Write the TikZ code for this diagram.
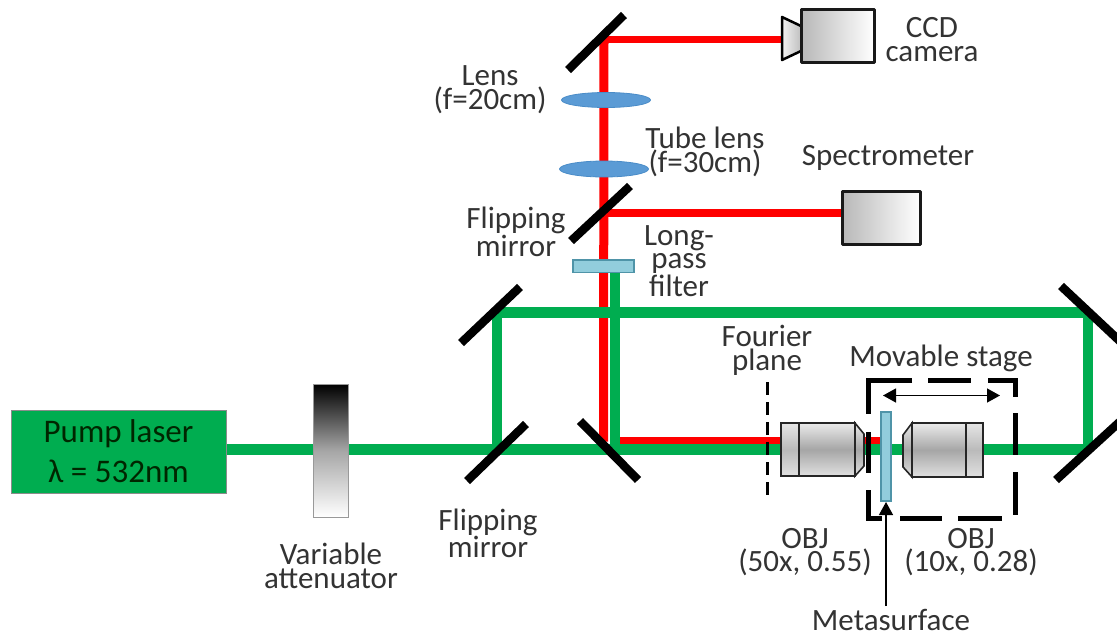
\documentclass[tikz,border=0pt]{standalone}
\usepackage{fontspec}
\setmainfont{Carlito}
\usetikzlibrary{arrows.meta,shapes.geometric}
\definecolor{beamgreen}{HTML}{00AD50}
\definecolor{beamred}{HTML}{FF0000}
\definecolor{lensblue}{HTML}{5B9BD5}
\definecolor{lensedge}{HTML}{4A8CC8}
\definecolor{plateblue}{HTML}{92CDDC}
\definecolor{plateedge}{HTML}{4F94A8}
\definecolor{txt}{HTML}{333333}
\tikzset{
  every node/.style={inner sep=0pt,outer sep=0pt},
  label text/.style={font=\fontsize{31}{23.7}\selectfont,align=center,text=txt},
  pump text/.style={font=\fontsize{33}{40}\selectfont,align=center,text=black!85!green},
  green beam/.style={draw=beamgreen,line width=10.5pt},
  red beam/.style={draw=beamred,line width=8.5pt},
  mirror/.style={draw=black,line width=8.5pt},
  lens/.style={ellipse,fill=lensblue,draw=lensedge,line width=0.8pt},
  plate/.style={fill=plateblue,draw=plateedge,line width=1.5pt},
  boxbody/.style={draw=black!90,line width=3pt,left color=black!28,right color=white,shading angle=90},
  objside/.style={draw=black!85,line width=1.6pt,top color=black!10,bottom color=black!12,middle color=black!27},
  obj/.style={draw=black!85,line width=1.6pt,top color=black!8,bottom color=black!12,middle color=black!35},
  stage/.style={draw=black,line width=5pt},
  fourier/.style={draw=black,line width=3pt,dash pattern=on 13pt off 7pt},
  thin arrow/.style={draw=black,line width=1.3pt,-{Triangle[length=13pt,width=14pt]}},
  both arrow/.style={draw=black,line width=1.3pt,{Triangle[length=13pt,width=14pt]}-{Triangle[length=13pt,width=14pt]}},
}
\begin{document}
\begin{tikzpicture}[x=1pt,y=-1pt]
\useasboundingbox (0,0) rectangle (1117,635);
% beam corner points
\coordinate (laserout) at (226,449.5);
\coordinate (m1) at (497,449.5);
\coordinate (m2) at (497,312.5);
\coordinate (m3) at (1088,312.5);
\coordinate (m4) at (1088,449.5);
\coordinate (m5g) at (615,449.5);
\coordinate (filterg) at (615,272);
\coordinate (m5r) at (603.5,441.5);
\coordinate (redend) at (884,441.5);
\coordinate (redcorner) at (620,441.5);
\coordinate (mtop) at (604,39);
\coordinate (mflip) at (604,213);
% beams
\draw[red beam] (redcorner) -- (redend);
\draw[red beam,line width=9pt] (m5r) -- (mtop);
\draw[red beam,line width=7pt] (mtop) -- (782,39);
\draw[red beam] (mflip) -- (842,213);
\draw[green beam] (laserout) -- (m4);
\draw[green beam] (m1) -- (m2);
\draw[green beam] (m2) -- (m3);
\draw[green beam] (m3) -- (m4);
\draw[green beam] (m5g) -- (filterg);
% mirrors
\draw[mirror] (568,70) -- (624,15);
\draw[mirror] (571,241) -- (630,186);
\draw[mirror] (461,343) -- (520,287);
\draw[mirror] (467,481) -- (526,424);
\draw[mirror] (580,421) -- (638,480);
\draw[mirror] (1061,286) -- (1125,346);
\draw[mirror] (1056,480) -- (1125,417);
% pump laser and attenuator
\node[draw=black!45,line width=1pt,fill=beamgreen,minimum width=215pt,minimum height=83pt,pump text] (pump) at (118.5,451.5) {Pump laser\\λ = 532nm};
\shade[top color=black,bottom color=white,middle color=black!35] (313,384) rectangle (348,517);
\draw[black!40,line width=0.8pt] (313,384) rectangle (348,517);
\node[label text] (att) at (331,566) {Variable\\attenuator};
% lenses and filter
\node[lens,minimum width=89pt,minimum height=15pt] (lens1) at (606,100) {};
\node[lens,minimum width=89pt,minimum height=16pt] (lens2) at (604,169) {};
\draw[plate] (573,260) rectangle (634,272.5);
% camera
\shade[left color=black!5,right color=black!25] (782,17) -- (801,26) -- (801,51) -- (782,60) -- cycle;
\draw[black,line width=2.5pt,line join=round] (801,26) -- (782,17) -- (782,60) -- (801,51);
\draw[boxbody,line join=round] (801,9.5) rectangle (874,62);
\draw[boxbody,line join=round] (842,191) rectangle (920,244);
% objective 1
\draw[obj] (855,423) -- (864,434) -- (864,466) -- (855,476) -- cycle;
\draw[obj] (799,423) rectangle (855,476);
\draw[objside] (781,423) rectangle (799,476);
% objective 2
\draw[obj] (912,423) -- (903,435) -- (903,467) -- (912,477) -- cycle;
\draw[obj] (912,423) rectangle (966,477);
\draw[objside] (966,423) rectangle (983,477);
% stage
\draw[stage] (912,380) -- (868,380) -- (868,414);
\draw[stage] (868,432) -- (868,473);
\draw[stage] (868,490) -- (868,518) -- (882,518);
\draw[stage] (900,518) -- (942,518);
\draw[stage] (958,518) -- (1002,518);
\draw[stage] (928,380) -- (971,380);
\draw[stage] (988,380) -- (1015,380) -- (1015,397);
\draw[stage] (1015,413) -- (1015,455);
\draw[stage] (1015,472) -- (1015,515);
\draw[both arrow] (883,395.5) -- (1000,395.5);
% Fourier plane
\draw[fourier] (767,382) -- (767,496);
% metasurface
\draw[plate] (881,412) rectangle (891,501);
\node[label text] (meta) at (891,620) {Metasurface};
\coordinate (metatip) at (886,502);
\draw[thin arrow] (886,606) -- (metatip);
% labels
\node[label text] (lbl1) at (490,89.5) {Lens\\(f=20cm)};
\node[label text] (lbl2) at (705,152) {Tube lens\\(f=30cm)};
\node[label text] (lbl3) at (932,39.5) {CCD\\camera};
\node[label text] (lbl4) at (888,157.5) {Spectrometer};
\node[label text] (lbl5) at (516,232) {Flipping\\mirror};
\node[label text] (lbl6) at (679,261) {Long-\\pass\\filter};
\node[label text] (lbl7) at (767,350.5) {Fourier\\plane};
\node[label text] (lbl8) at (941,358.5) {Movable stage};
\node[label text] (lbl9) at (488,533.5) {Flipping\\mirror};
\node[label text] (lbl10) at (805,552) {OBJ\\(50x, 0.55)};
\node[label text] (lbl11) at (971,552) {OBJ\\(10x, 0.28)};
\end{tikzpicture}
\end{document}
